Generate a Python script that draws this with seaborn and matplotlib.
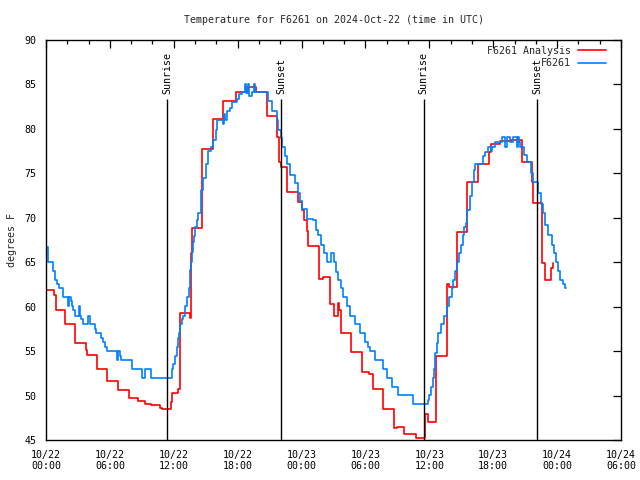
"""
Temperature chart for station F6261, gnuplot-like look
"""
import pandas as pd
import numpy as np
import matplotlib
matplotlib.use("Agg")
import matplotlib.pyplot as plt
import matplotlib.dates as mdates
import seaborn as sns

START = pd.Timestamp("2024-10-22 00:00")

# analysis (red), hours after start / degrees F
analysis_hours = [0.0, 0.75, 0.95, 1.78, 2.72, 3.72, 3.85, 4.76, 5.76, 6.76, 7.79, 8.67,
                  9.33, 9.83, 10.7, 10.9, 11.7, 11.85, 12.4, 12.58, 13.52, 13.6, 13.66,
                  13.7, 14.62, 15.7, 16.65, 17.84, 18.9, 19.7, 20.78, 21.7, 21.85, 22.05,
                  22.6, 23.7, 24.0, 24.2, 24.5, 24.65, 25.6, 26.05, 26.65, 27.07, 27.4,
                  27.55, 27.7, 28.6, 29.64, 30.36, 30.68, 31.67, 32.68, 33.0, 33.65,
                  34.74, 35.6, 35.85, 36.62, 37.62, 37.8, 38.56, 39.56, 40.6, 41.6,
                  41.75, 42.6, 43.7, 44.67, 45.67, 45.75, 46.55, 46.9, 47.47, 47.6, 47.65]
analysis_temp = [61.9, 61.3, 59.6, 58.0, 55.9, 55.1, 54.6, 52.95, 51.6, 50.6, 49.7, 49.4,
                 49.1, 48.9, 48.6, 48.45, 49.3, 50.3, 50.7, 59.3, 58.7, 61.1, 66.0,
                 68.8, 77.7, 81.1, 83.1, 84.15, 84.7, 84.1, 81.5, 79.05, 76.3, 75.75,
                 72.9, 71.8, 70.9, 69.8, 68.5, 66.8, 63.1, 63.3, 60.3, 59.0, 60.4,
                 59.6, 57.0, 54.9, 52.7, 52.4, 50.7, 48.45, 46.4, 46.5, 45.65,
                 45.2, 47.9, 47.0, 54.45, 62.5, 62.2, 68.4, 74.0, 76.05, 77.35,
                 78.3, 78.6, 78.7, 76.25, 74.0, 71.7, 64.9, 63.0, 64.4, 64.9, 64.9]

# observations (blue)
obs_hours = [0.0, 0.22, 0.63, 0.85, 1.06, 1.25, 1.57, 2.10, 2.19, 2.32, 2.41, 2.57, 2.69,
             3.10, 3.15, 3.26, 3.44, 3.97, 4.13, 4.60, 4.70, 5.13, 5.32, 5.54, 5.70,
             6.64, 6.79, 6.98, 7.04, 8.04, 8.98, 9.30, 9.83, 11.86, 11.96, 12.11, 12.27,
             12.36, 12.52, 12.62, 12.74, 12.90, 13.08, 13.21, 13.27, 13.40, 13.52, 13.56,
             13.62, 13.71, 13.78, 13.90, 14.03, 14.15, 14.30, 14.59, 14.78, 15.00, 15.25,
             15.47, 15.71, 15.94, 16.09, 16.59, 16.7, 16.84, 17.03, 17.28, 17.44, 17.91,
             18.16, 18.38, 18.69, 18.8, 18.95, 19.1, 19.3, 19.5, 19.6, 20.82, 21.20,
             21.67, 21.82, 22.04, 22.20, 22.45, 22.67, 22.92, 23.38, 23.70, 23.85, 24.08,
             24.48, 25.1, 25.36, 25.58, 25.83, 26.11, 26.42, 26.73, 27.08, 27.2, 27.45,
             27.67, 27.92, 28.24, 28.55, 29.02, 29.49, 29.96, 30.27, 30.43, 30.9, 31.62,
             32.0, 32.47, 33.09, 34.44, 35.9, 36.0, 36.13, 36.32, 36.44, 36.53, 36.69,
             36.85, 37.07, 37.38, 37.63, 37.88, 38.1, 38.26, 38.41, 38.57, 38.82, 38.95,
             39.13, 39.26, 39.41, 39.57, 39.82, 40.01, 40.2, 40.29, 41.07, 41.23, 41.54,
             41.76, 41.86, 42.17, 42.8, 43.11, 43.26, 43.58, 43.89, 44.2, 44.3, 44.42,
             44.52, 44.89, 45.14, 45.52, 45.77, 46.24, 46.46, 46.71, 46.86, 47.18, 47.49,
             47.74, 47.9, 48.05, 48.27, 48.52, 48.74, 48.8]
obs_temp = [66.75, 65.0, 64.0, 63.0, 62.5, 62.05, 61.05, 60.1, 61.05, 60.6, 60.1, 59.6, 59.0,
            60.1, 59.0, 58.6, 58.0, 59.0, 58.0, 57.5, 57.0, 56.45, 56.0, 55.5, 55.0,
            54.0, 55.0, 54.5, 54.0, 53.0, 51.95, 53.0, 51.95, 53.0, 53.5, 54.5, 55.5,
            56.45, 57.0, 58.0, 58.6, 59.0, 60.1, 60.6, 61.05, 62.05, 63.0, 64.1,
            65.0, 66.1, 67.3, 68.0, 69.0, 69.7, 70.5, 73.1, 74.5, 76.0, 77.5,
            78.0, 78.8, 79.9, 81.0, 80.5, 81.7, 81.0, 82.0, 82.3, 83.0, 83.4,
            83.9, 84.2, 85.0, 84.0, 85.0, 83.7, 84.2, 85.0, 84.2, 83.1, 82.0,
            81.0, 79.9, 79.0, 78.0, 76.9, 76.0, 74.8, 73.9, 72.8, 71.9, 71.0,
            69.9, 69.75, 68.6, 68.06, 66.9, 66.0, 65.0, 66.0, 65.0, 63.94, 63.0,
            62.06, 61.05, 60.08, 58.99, 58.0, 57.0, 56.03, 55.5, 55.0, 54.0, 53.0,
            51.94, 51.0, 50.06, 49.05, 49.5, 50.06, 51.0, 51.94, 53.0, 54.75, 55.95,
            57.0, 58.0, 59.0, 60.08, 61.05, 62.06, 63.0, 64.0, 65.0, 66.0, 66.9,
            68.06, 69.0, 69.4, 70.9, 72.4, 74.06, 75.4, 76.0, 76.9, 77.4, 78.0,
            77.55, 78.0, 78.5, 79.05, 78.0, 79.05, 78.5, 79.05, 78.0, 79.05, 78.5,
            78.0, 77.1, 76.24, 75.0, 74.0, 72.75, 71.6, 70.5, 69.2, 68.06, 66.9,
            66.0, 65.0, 64.0, 63.0, 62.5, 62.06, 62.06]

sun_hours = [11.40, 22.10, 35.48, 46.10]
sun_labels = ["Sunrise", "Sunset", "Sunrise", "Sunset"]

y_ticks = [45, 50, 55, 60, 65, 70, 75, 80, 85, 90]

FS = 7.2


def to_time(hours):
    return START + pd.to_timedelta(np.array(hours), unit="h")


sns.set_theme(style="white")
plt.rcParams["font.family"] = ["DejaVu Sans Mono"]
plt.rcParams["font.size"] = FS

fig = plt.figure(figsize=(6.4, 4.8), dpi=100)
ax = fig.add_axes([46 / 640, 40 / 480, 575 / 640, 400 / 480])

df_a = pd.DataFrame({"time": to_time(analysis_hours), "temp": analysis_temp})
df_o = pd.DataFrame({"time": to_time(obs_hours), "temp": obs_temp})

sns.lineplot(data=df_a, x="time", y="temp", ax=ax, color="#ff0000", lw=1.2,
             drawstyle="steps-post", estimator=None, label="F6261 Analysis")
sns.lineplot(data=df_o, x="time", y="temp", ax=ax, color="#0080ff", lw=1.2,
             drawstyle="steps-post", estimator=None, label="F6261")

# sunrise / sunset markers
ax.vlines(to_time(sun_hours), 45, 83.4, colors="black", lw=1.0)
for t, lab in zip(to_time(sun_hours), sun_labels):
    ax.text(t, 83.9, lab, rotation=90, ha="center", va="bottom", color="black",
            fontsize=FS)

ax.set_xlim(START, START + pd.Timedelta(hours=54))
ax.set_ylim(45, 90)
ax.set_yticks(y_ticks)
ax.xaxis.set_major_locator(mdates.HourLocator(byhour=[0, 6, 12, 18]))
ax.xaxis.set_minor_locator(mdates.HourLocator(interval=2))
ax.xaxis.set_major_formatter(mdates.DateFormatter("%m/%d\n%H:%M"))

ax.tick_params(which="both", direction="in", top=True, right=True, colors="black",
               labelsize=FS, width=0.9)
ax.tick_params(which="major", length=6, pad=7)
ax.tick_params(which="minor", length=3)
for s in ax.spines.values():
    s.set_color("black")
    s.set_linewidth(1.0)

ax.set_xlabel("")
ax.set_ylabel("degrees F", fontsize=FS, labelpad=5)
ax.set_title("Temperature for F6261 on 2024-Oct-22 (time in UTC)", fontsize=FS, pad=12)

ax.legend(loc="upper right", bbox_to_anchor=(0.985, 1.0), frameon=False,
          markerfirst=False, handlelength=2.8, handletextpad=0.7,
          labelspacing=0.25, borderaxespad=0.2, fontsize=FS)

fig.savefig("out.png", dpi=100)
